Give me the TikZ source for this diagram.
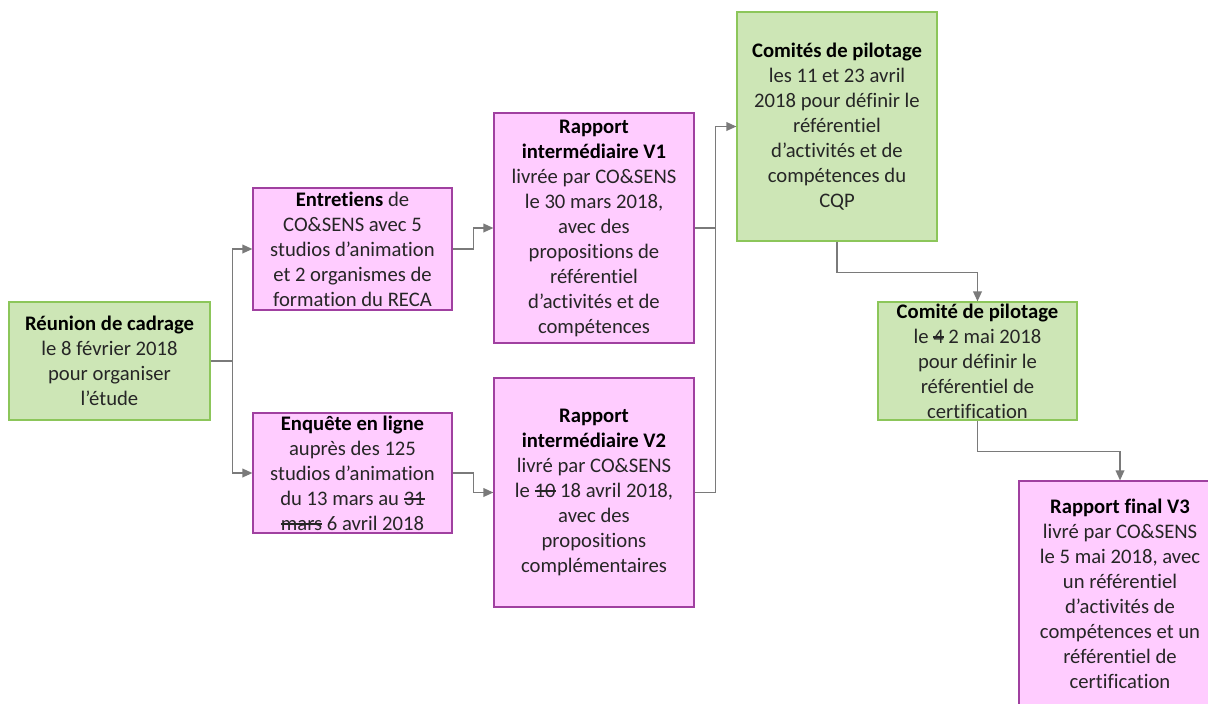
\documentclass[tikz,border=0pt]{standalone}
\usepackage{fontspec}
\setmainfont{Carlito}[Ligatures=NoCommon]
\usetikzlibrary{arrows.meta}
\definecolor{gfill}{HTML}{CDE6B6}
\definecolor{gdraw}{HTML}{8CC65A}
\definecolor{pfill}{HTML}{FFCCFF}
\definecolor{pdraw}{HTML}{A040A0}
\definecolor{conngray}{HTML}{7A7A7A}
\definecolor{bodytxt}{HTML}{262626}
\newcommand\strk[1]{\sbox0{#1}\rlap{\rule[0.27em]{\wd0}{0.08em}}\usebox0}
\tikzset{
  base/.style={rectangle, inner sep=0pt, align=center, line width=0.9pt,
    font=\fontsize{15.5}{18.75}\selectfont\color{bodytxt}},
  gbox/.style={base, fill=gfill, draw=gdraw},
  pbox/.style={base, fill=pfill, draw=pdraw},
  conn/.style={draw=conngray, line width=1.1pt,
    -{Triangle[length=7.5pt,width=6.5pt,fill=conngray]}},
  plain/.style={draw=conngray, line width=1.1pt},
}
\newcommand\hd[1]{\textbf{\color{black}#1}}
\begin{document}
\begin{tikzpicture}[x=0.75pt,y=-0.75pt]
\clip (0,0) rectangle (1208,704);
\fill[white] (0,0) rectangle (1208,704);

\node[gbox, minimum width=150.75pt, minimum height=88.5pt] (reunion) at (109.5,361)
  {\hd{Réunion de cadrage}\\le 8 février 2018\\pour organiser\\l’étude};
\node[pbox, minimum width=149.25pt, minimum height=91.5pt] (entretiens) at (352.5,249)
  {\hd{Entretiens} de\\CO\&SENS avec 5\\studios d’animation\\et 2 organismes de\\formation du RECA};
\node[pbox, minimum width=149.25pt, minimum height=90pt] (enquete) at (352.5,473)
  {\hd{Enquête en ligne}\\auprès des 125\\studios d’animation\\du 13 mars au \strk{31}\\\strk{mars} 6 avril 2018};
\node[pbox, minimum width=150pt, minimum height=172.5pt] (v1) at (594,228)
  {\hd{Rapport}\\\hd{intermédiaire V1}\\livrée par CO\&SENS\\le 30 mars 2018,\\avec des\\propositions de\\référentiel\\d’activités et de\\compétences};
\node[pbox, minimum width=150pt, minimum height=171.75pt] (v2) at (594,492.5)
  {\hd{Rapport}\\\hd{intermédiaire V2}\\livré par CO\&SENS\\le \strk{10} 18 avril 2018,\\avec des\\propositions\\complémentaires};
\node[gbox, minimum width=150pt, minimum height=171.75pt] (comites) at (837,126.5)
  {\hd{Comités de pilotage}\\les 11 et 23 avril\\2018 pour définir le\\référentiel\\d’activités et de\\compétences du\\CQP};
\node[gbox, minimum width=149.25pt, minimum height=88.5pt] (comite) at (977.5,361)
  {\hd{Comité de pilotage}\\le \strk{4} 2 mai 2018\\pour définir le\\référentiel de\\certification};
\node[pbox, minimum width=151.5pt, minimum height=168.75pt] (final) at (1120,593.5)
  {\hd{Rapport final V3}\\livré par CO\&SENS\\le 5 mai 2018, avec\\un référentiel\\d’activités de\\compétences et un\\référentiel de\\certification};

\draw[plain] (reunion.east) -- ++(22,0) coordinate (j1);
\draw[conn] (j1) |- (entretiens.west);
\draw[conn] (j1) |- (enquete.west);
\draw[conn] (entretiens.east) -- ++(21,0) |- (v1.west);
\draw[conn] (enquete.east) -- ++(21,0) |- (v2.west);
\draw[conn] (v1.east) -- ++(21,0) coordinate (j2) |- (comites.west);
\draw[plain] (v2.east) -| (j2);
\draw[conn] (comites.south) -- ++(0,31) -| (comite.north);
\draw[conn] (comite.south) -- ++(0,31) -| (final.north);
\end{tikzpicture}
\end{document}
